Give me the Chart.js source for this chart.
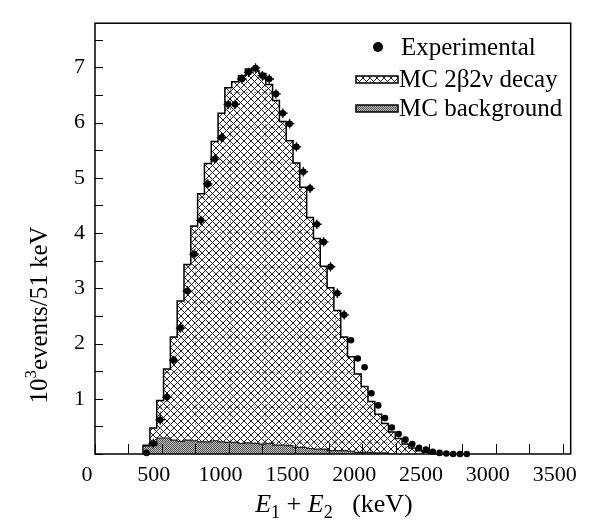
<!DOCTYPE html>
<html>
<head>
<meta charset="utf-8">
<script src="https://cdn.jsdelivr.net/npm/chart.js@4.4.1/dist/chart.umd.min.js"></script>
<style>
  html, body { margin: 0; padding: 0; background: #fff; }
  #wrap { width: 593px; height: 521px; position: relative; }
</style>
</head>
<body>
<div id="wrap"><canvas id="spectrumChart"></canvas></div>
<script>
// 51 keV bins, first bin starts at 360 keV
const binStart = 360;
const binWidth = 51;

// experimental spectrum, 10^3 events per bin
const expValues = [0.02, 0.19, 0.62, 1.03, 1.70, 2.28, 2.95, 3.62, 4.23, 4.89,
  5.34, 5.73, 6.33, 6.33, 6.79, 6.91, 6.99, 6.85, 6.79, 6.52,
  6.17, 5.98, 5.56, 5.11, 4.81, 4.16, 3.84, 3.39, 2.91, 2.52,
  2.06, 1.73, 1.57, 1.10, 0.88, 0.65, 0.48, 0.36, 0.26, 0.18,
  0.11, 0.08, 0.04, 0.02, 0.01, 0.0, 0.0, 0.0];

// MC 2b2v decay (hatched), same bins
const mcValues = [0, 0.16, 0.47, 0.97, 1.54, 2.12, 2.77, 3.43, 4.13, 4.71,
  5.26, 5.66, 6.17, 6.63, 6.74, 6.85, 6.97, 6.94, 6.89, 6.69,
  6.40, 6.02, 5.67, 5.27, 4.83, 4.28, 3.90, 3.40, 3.01, 2.60,
  2.12, 1.76, 1.45, 1.22, 0.95, 0.72, 0.55, 0.40, 0.28, 0.18,
  0.11, 0.06, 0.03];

// MC background (grey)
const bkgValues = [0, 0.14, 0.15, 0.29, 0.29, 0.25, 0.23, 0.25, 0.24, 0.22,
  0.22, 0.24, 0.22, 0.21, 0.21, 0.19, 0.20, 0.19, 0.18, 0.19,
  0.16, 0.16, 0.15, 0.12, 0.12, 0.10, 0.09, 0.09, 0.06, 0.06,
  0.06, 0.05, 0.03, 0.03, 0.03, 0.02, 0.02];

// tick marks (every 250 keV / 0.5) and the ones that get a label
const xTicks = [0, 250, 500, 750, 1000, 1250, 1500, 1750, 2000, 2250, 2500, 2750, 3000, 3250, 3500];
const yTicks = [0, 0.5, 1, 1.5, 2, 2.5, 3, 3.5, 4, 4.5, 5, 5.5, 6, 6.5, 7, 7.5];
const xTickLabels = [0, 500, 1000, 1500, 2000, 2500, 3000, 3500];
const yTickLabels = [1, 2, 3, 4, 5, 6, 7];

const FONT = 'Liberation Serif';

const canvas = document.getElementById('spectrumChart');
const mainCtx = canvas.getContext('2d');

function makeHatch() {
  const c = document.createElement('canvas');
  c.width = 35; c.height = 35;
  const g = c.getContext('2d');
  g.strokeStyle = '#222';
  g.lineWidth = 1;
  g.beginPath();
  for (let k = -35; k <= 35; k += 7) {
    g.moveTo(k, 0); g.lineTo(k + 35, 35);
    g.moveTo(k, 35); g.lineTo(k + 35, 0);
  }
  g.stroke();
  // faint seams seen in the scanned figure
  g.setLineDash([2, 2]);
  g.strokeStyle = '#777';
  g.lineWidth = 0.8;
  g.beginPath();
  g.moveTo(0.5, 0); g.lineTo(0.5, 35);
  g.moveTo(0, 0.5); g.lineTo(35, 0.5);
  g.stroke();
  const p = mainCtx.createPattern(c, 'repeat');
  if (p.setTransform) p.setTransform(new DOMMatrix().translate(20, 22));
  return p;
}

function makeStipple() {
  const c = document.createElement('canvas');
  c.width = 2; c.height = 2;
  const g = c.getContext('2d');
  g.fillStyle = '#c0c0c0';
  g.fillRect(0, 0, 2, 2);
  g.fillStyle = '#505050';
  g.fillRect(0, 0, 1, 1);
  g.fillRect(1, 1, 1, 1);
  return mainCtx.createPattern(c, 'repeat');
}

const hatch = makeHatch();
const stipple = makeStipple();

// histogram outline points on bin edges (drawn with stepped: 'after')
function stepPoints(values) {
  const pts = [{ x: binStart, y: 0 }];
  values.forEach((v, i) => pts.push({ x: binStart + i * binWidth, y: v }));
  pts.push({ x: binStart + values.length * binWidth, y: 0 });
  return pts;
}

const expPoints = expValues.map((v, i) => ({ x: binStart + (i + 0.5) * binWidth, y: v }));

// draws a row of text pieces (italic / sub / superscript) centred on 0,0
function drawRich(ctx, pieces) {
  let total = 0;
  pieces.forEach(p => {
    ctx.font = (p.italic ? 'italic ' : '') + p.size + 'px "' + FONT + '"';
    p.w = ctx.measureText(p.text).width;
    total += p.w;
  });
  let cx = -total / 2;
  pieces.forEach(p => {
    ctx.font = (p.italic ? 'italic ' : '') + p.size + 'px "' + FONT + '"';
    ctx.fillText(p.text, cx, p.dy || 0);
    cx += p.w;
  });
}

const decorations = {
  id: 'decorations',
  afterDatasetsDraw(chart) {
    const { ctx, chartArea: a, scales: { x, y } } = chart;
    ctx.save();

    // error bars on the experimental points
    ctx.strokeStyle = '#000';
    ctx.lineWidth = 1.3;
    ctx.beginPath();
    expPoints.forEach(p => {
      if (p.x > 1880 || p.y < 0.1) return;
      const px = x.getPixelForValue(p.x), py = y.getPixelForValue(p.y);
      const hx = x.getPixelForValue(p.x + 36) - px;
      const hy = py - y.getPixelForValue(p.y + 0.085);
      ctx.moveTo(px - hx, py); ctx.lineTo(px + hx, py);
      ctx.moveTo(px, py - hy); ctx.lineTo(px, py + hy);
    });
    ctx.stroke();

    // inward ticks
    ctx.lineWidth = 1;
    ctx.beginPath();
    x.ticks.forEach(t => {
      const px = Math.round(x.getPixelForValue(t.value)) + 0.5;
      ctx.moveTo(px, a.bottom); ctx.lineTo(px, a.bottom - 10);
    });
    y.ticks.forEach(t => {
      const py = Math.round(y.getPixelForValue(t.value)) + 0.5;
      ctx.moveTo(a.left, py); ctx.lineTo(a.left + 8, py);
    });
    ctx.stroke();

    // frame
    ctx.lineWidth = 1.5;
    ctx.strokeRect(a.left, a.top, a.right - a.left, a.bottom - a.top);
    ctx.restore();
  },
  afterDraw(chart) {
    const { ctx } = chart;
    const ds = chart.data.datasets;
    ctx.save();
    ctx.fillStyle = '#000';
    ctx.textBaseline = 'middle';
    ctx.textAlign = 'left';
    ctx.font = '25px "' + FONT + '"';

    // legend
    ctx.beginPath();
    ctx.arc(378, 47, 5, 0, Math.PI * 2);
    ctx.fill();
    ctx.fillText(ds[0].label, 401, 48);

    ctx.fillStyle = hatch;
    ctx.fillRect(356, 76, 42, 7);
    ctx.strokeStyle = '#000';
    ctx.lineWidth = 1.5;
    ctx.strokeRect(356, 76, 42, 7);
    ctx.fillStyle = '#000';
    ctx.fillText(ds[2].label, 399, 80);

    ctx.fillStyle = stipple;
    ctx.fillRect(356, 105, 42, 7);
    ctx.strokeRect(356, 105, 42, 7);
    ctx.fillStyle = '#000';
    ctx.fillText(ds[1].label, 399, 109);

    // axis titles
    ctx.textBaseline = 'alphabetic';
    ctx.save();
    ctx.translate(334, 512);
    drawRich(ctx, [
      { text: 'E', italic: true, size: 26 },
      { text: '1', size: 18, dy: 6 },
      { text: ' + ', size: 26 },
      { text: 'E', italic: true, size: 26 },
      { text: '2', size: 18, dy: 6 },
      { text: '   (keV)', size: 26 }
    ]);
    ctx.restore();

    ctx.save();
    ctx.translate(47, 315);
    ctx.rotate(-Math.PI / 2);
    drawRich(ctx, [
      { text: '10', size: 25 },
      { text: '3', size: 17, dy: -11 },
      { text: 'events/51 keV', size: 25 }
    ]);
    ctx.restore();

    ctx.restore();
  }
};

new Chart(canvas, {
  type: 'line',
  data: {
    datasets: [
      {
        label: 'Experimental',
        data: expPoints,
        showLine: false,
        pointRadius: 3.3,
        pointBackgroundColor: '#000',
        pointBorderWidth: 0,
        clip: false,
        order: 0
      },
      {
        label: 'MC background',
        data: stepPoints(bkgValues),
        stepped: 'after',
        pointRadius: 0,
        borderColor: '#222',
        borderWidth: 1.2,
        backgroundColor: stipple,
        fill: 'origin',
        order: 1
      },
      {
        label: 'MC 2β2ν decay',
        data: stepPoints(mcValues),
        stepped: 'after',
        pointRadius: 0,
        borderColor: '#000',
        borderWidth: 1.5,
        backgroundColor: hatch,
        fill: 'origin',
        order: 2
      }
    ]
  },
  options: {
    responsive: true,
    maintainAspectRatio: false,
    animation: false,
    layout: { padding: { top: 8, right: 19, left: 0, bottom: 0 } },
    plugins: { legend: { display: false }, tooltip: { enabled: false } },
    scales: {
      x: {
        type: 'linear',
        min: 0,
        max: 3560,
        grid: { display: false, drawTicks: false },
        border: { display: false },
        afterBuildTicks: s => { s.ticks = xTicks.map(v => ({ value: v })); },
        ticks: {
          autoSkip: false,
          maxRotation: 0,
          padding: 8,
          labelOffset: -8,
          color: '#000',
          font: { family: FONT, size: 22 },
          callback: v => (xTickLabels.includes(v) ? String(v) : '')
        },
        afterFit: s => { s.height = 67; }
      },
      y: {
        min: 0,
        max: 7.8,
        grid: { display: false, drawTicks: false },
        border: { display: false },
        afterBuildTicks: s => { s.ticks = yTicks.map(v => ({ value: v })); },
        ticks: {
          autoSkip: false,
          padding: 10,
          color: '#000',
          font: { family: FONT, size: 22 },
          callback: v => (yTickLabels.includes(v) ? String(v) : '')
        },
        afterFit: s => { s.width = 95; }
      }
    }
  },
  plugins: [decorations]
});
</script>
</body>
</html>
